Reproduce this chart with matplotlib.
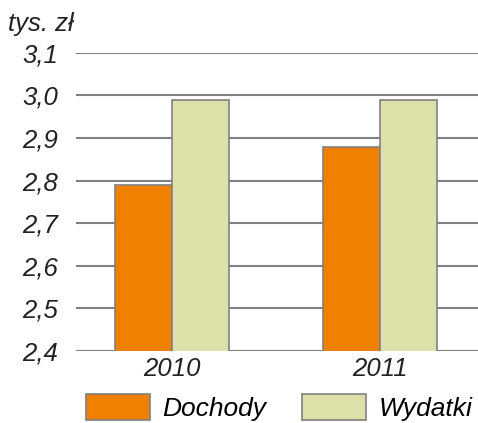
import matplotlib.pyplot as plt
import numpy as np
from matplotlib.patches import Patch

years = ["2010", "2011"]
dochody = [2.79, 2.88]
wydatki = [2.99, 2.99]
yticks = [2.4, 2.5, 2.6, 2.7, 2.8, 2.9, 3.0, 3.1]

plt.rcParams['font.family'] = ['Liberation Sans', 'DejaVu Sans']

fig = plt.figure(figsize=(4.78, 4.23), dpi=100)
ax = fig.add_axes([0.159, 0.170, 0.841, 0.705])

x = np.arange(len(years))
w = 0.274
orange = "#F08000"
green = "#DDE0A8"
edge = "#808080"

ax.bar(x - w / 2, dochody, w, color=orange, edgecolor=edge, linewidth=1.2, zorder=3)
ax.bar(x + w / 2, wydatki, w, color=green, edgecolor=edge, linewidth=1.2, zorder=3)

ax.set_ylim(2.4, 3.1)
ax.set_xlim(-0.4615, 1.471)
ax.set_yticks(yticks)
ax.set_yticklabels([f"{v:.1f}".replace(".", ",") for v in yticks],
                   fontsize=18.5, fontstyle="italic", color="#222222")
ax.set_xticks(x)
ax.set_xticklabels(years, fontsize=18.5, fontstyle="italic", color="#222222")
ax.tick_params(axis="both", length=0)
ax.tick_params(axis="y", pad=13)
ax.tick_params(axis="x", pad=4)
ax.grid(axis="y", color=edge, linewidth=1.5, zorder=0)
for s in ax.spines.values():
   s.set_visible(False)

fig.text(0.017, 0.927, "tys. zł", fontsize=18.5, fontstyle="italic", color="#222222")

handles = [Patch(facecolor=orange, edgecolor=edge, linewidth=1.2),
           Patch(facecolor=green, edgecolor=edge, linewidth=1.2)]
fig.legend(handles, ["Dochody", "Wydatki"], loc="lower left",
           bbox_to_anchor=(0.168, -0.008), ncol=2, frameon=False,
           prop={"size": 19, "style": "italic"}, handlelength=2.45,
           handleheight=1.15, handletextpad=0.45, columnspacing=1.35,
           borderpad=0.2, borderaxespad=0)

fig.savefig("out.png", dpi=100)
